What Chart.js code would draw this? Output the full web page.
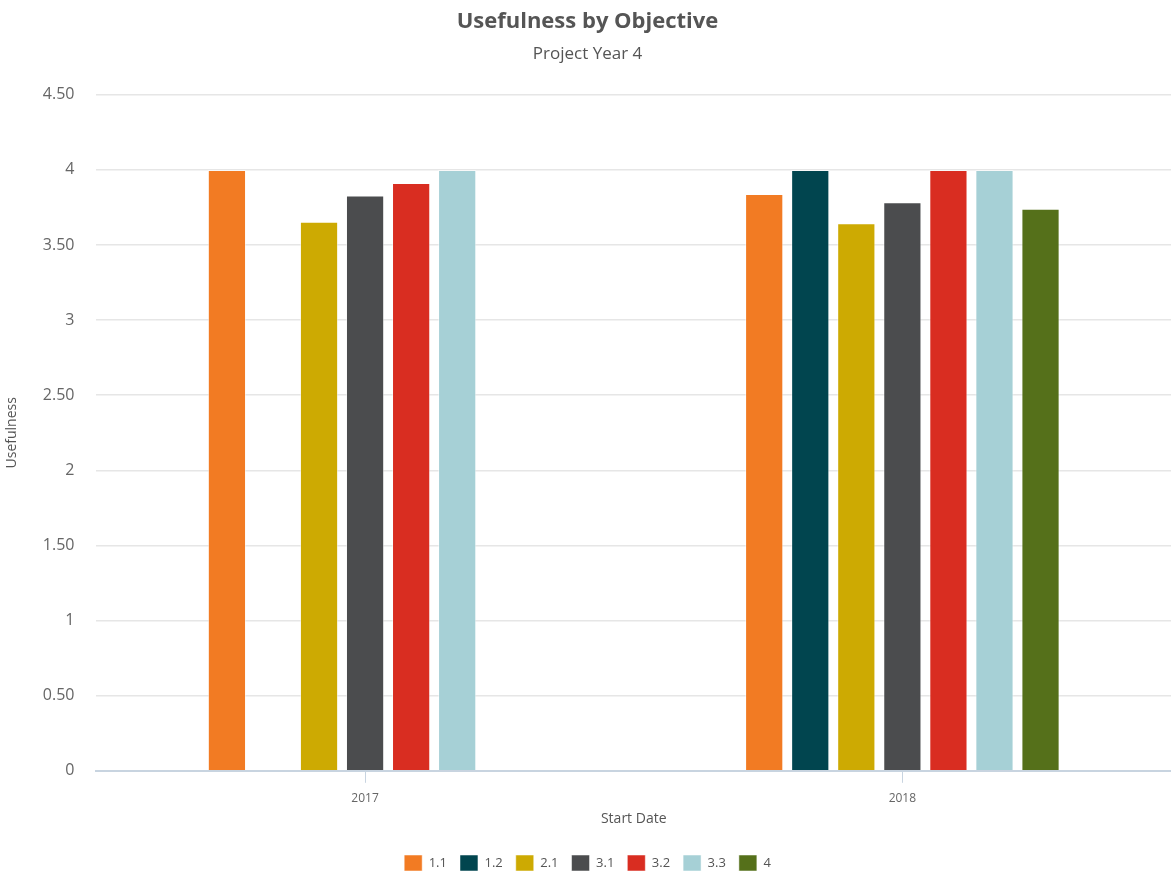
<!DOCTYPE html>
<html lang="en">
<head>
    <meta charset="UTF-8">
    <title>Usefulness by Objective</title>
    <script src="https://cdn.jsdelivr.net/npm/chart.js"></script>
    <style>
        html, body { margin: 0; padding: 0; background: #fff; }
        .chart-box { position: relative; width: 1171px; height: 878px; }
    </style>
</head>
<body>
    <div class="chart-box">
        <canvas id="usefulnessChart"></canvas>
    </div>

    <script>
        // カテゴリ (Start Date)
        const years = ['2017', '2018'];

        // 目的ごとの値 (null = データなし)
        const objectives = ['1.1', '1.2', '2.1', '3.1', '3.2', '3.3', '4'];
        const v11 = [4.0, 3.84];
        const v12 = [null, 4.0];
        const v21 = [3.655, 3.645];
        const v31 = [3.83, 3.785];
        const v32 = [3.913, 4.0];
        const v33 = [4.0, 4.0];
        const v4 = [null, 3.742];

        const seriesValues = [v11, v12, v21, v31, v32, v33, v4];
        const seriesColors = ['#f27b23', '#01454f', '#cdaa02', '#4b4c4e', '#d92d21', '#a6d0d6', '#55701a'];

        const fontFamily = "'Open Sans', Lato, sans-serif";
        const textColor = '#555555';
        const tickColor = '#666666';

        const datasets = objectives.map((name, i) => ({
            label: name,
            data: seriesValues[i],
            backgroundColor: seriesColors[i],
            borderColor: 'rgba(255,255,255,0.5)',
            borderWidth: 1,
            categoryPercentage: 0.6,
            barPercentage: 0.83,
            skipNull: false
        }));

        // 4 -> "4", 3.5 -> "3.50"
        function formatTick(value) {
            return Number.isInteger(value) ? String(value) : value.toFixed(2);
        }

        new Chart(document.getElementById('usefulnessChart'), {
            type: 'bar',
            data: { labels: years, datasets: datasets },
            options: {
                responsive: true,
                maintainAspectRatio: false,
                animation: false,
                layout: { padding: { left: 4, right: 0, top: 4, bottom: -3 } },
                plugins: {
                    title: {
                        display: true,
                        text: 'Usefulness by Objective',
                        color: textColor,
                        font: { family: fontFamily, size: 22, weight: 'bold' },
                        padding: { top: 5, bottom: 9 }
                    },
                    subtitle: {
                        display: true,
                        text: 'Project Year 4',
                        color: textColor,
                        font: { family: fontFamily, size: 17 },
                        padding: { bottom: 30 }
                    },
                    legend: {
                        position: 'bottom',
                        labels: {
                            boxWidth: 18,
                            boxHeight: 16,
                            padding: 13,
                            color: textColor,
                            font: { family: fontFamily, size: 13 }
                        }
                    },
                    tooltip: { enabled: true }
                },
                scales: {
                    x: {
                        grid: {
                            display: true,
                            offset: false,
                            drawOnChartArea: false,
                            drawTicks: true,
                            tickLength: 12,
                            color: '#c8d4e0'
                        },
                        border: { color: '#c8d4e0', width: 2 },
                        ticks: {
                            color: tickColor,
                            font: { family: fontFamily, size: 12 },
                            padding: 9
                        },
                        title: {
                            display: true,
                            text: 'Start Date',
                            color: textColor,
                            font: { family: fontFamily, size: 14 },
                            padding: { top: -5, bottom: 15 }
                        }
                    },
                    y: {
                        min: 0,
                        max: 4.5,
                        grid: {
                            color: '#e6e6e6',
                            lineWidth: 1.5,
                            drawTicks: false
                        },
                        border: { display: false },
                        ticks: {
                            stepSize: 0.5,
                            color: tickColor,
                            font: { family: fontFamily, size: 16 },
                            padding: 22,
                            callback: value => formatTick(value)
                        },
                        title: {
                            display: true,
                            text: 'Usefulness',
                            color: textColor,
                            font: { family: fontFamily, size: 14 },
                            padding: { top: 0, bottom: 0 }
                        }
                    }
                }
            }
        });
    </script>
</body>
</html>
